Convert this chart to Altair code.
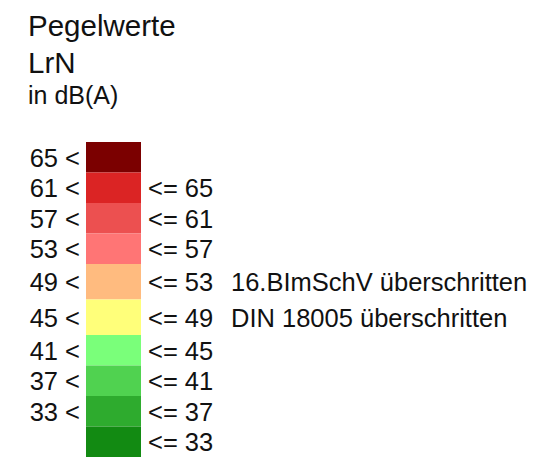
import altair as alt
import pandas as pd

# Legend content
lower = [65, 61, 57, 53, 49, 45, 41, 37, 33, None]
upper = [None, 65, 61, 57, 53, 49, 45, 41, 37, 33]
colors = ["#7b0000", "#db2424", "#ec5050", "#ff7575", "#ffbb7f",
          "#ffff7a", "#7aff7a", "#50d250", "#2eab2e", "#128a12"]
notes = ["", "", "", "", "16.BImSchV überschritten", "DIN 18005 überschritten",
         "", "", "", ""]
title_lines = ["Pegelwerte", "LrN", "in dB(A)"]

# Layout (pixels inside the chart)
W, H = 525, 450
TOP = 134
BASE_H, NOTE_H = 30.5, 35.5
FONT = "Liberation Sans"

rows = []
y = TOP
for i in range(len(colors)):
    h = NOTE_H if notes[i] else BASE_H
    rows.append({
        "key": f"k{i}",
        "top": y,
        "bottom": y + h,
        "mid": y + h / 2 + 1.5,
        "left": f"{lower[i]} <" if lower[i] is not None else "",
        "right": f"<= {upper[i]}" if upper[i] is not None else "",
        "note": notes[i],
    })
    y += h
df = pd.DataFrame(rows)

yscale = alt.Scale(domain=[0, H], reverse=True, nice=False, zero=False)
base = alt.Chart(df)

rects = base.mark_rect().encode(
    x=alt.value(78), x2=alt.value(133),
    y=alt.Y("top:Q", scale=yscale, axis=None),
    y2="bottom:Q",
    color=alt.Color("key:N", scale=alt.Scale(domain=list(df["key"]), range=colors), legend=None),
)

def row_text(field, xpos, align):
    return base.mark_text(font=FONT, fontSize=25.5, align=align, baseline="middle",
                          color="#111111").encode(
        x=alt.value(xpos),
        y=alt.Y("mid:Q", scale=yscale, axis=None),
        text=f"{field}:N",
    )

left_t = row_text("left", 72, "right")
right_t = row_text("right", 140, "left")
note_t = row_text("note", 223, "left")

tdf = pd.DataFrame({"t": title_lines})
def title_text(idx, size, ypos):
    return alt.Chart(tdf.iloc[[idx]]).mark_text(
        font=FONT, fontSize=size, align="left", baseline="alphabetic", color="#111111"
    ).encode(x=alt.value(20), y=alt.value(ypos), text="t:N")

titles = title_text(0, 29.5, 28) + title_text(1, 29.5, 65) + title_text(2, 25, 96)

chart = alt.layer(rects, left_t, right_t, note_t, titles).properties(
    width=W, height=H, padding=0,
    autosize=alt.AutoSizeParams(type="none"),
).configure_view(stroke=None)

chart.save("out.html", embed_options={"renderer": "svg", "actions": False})
